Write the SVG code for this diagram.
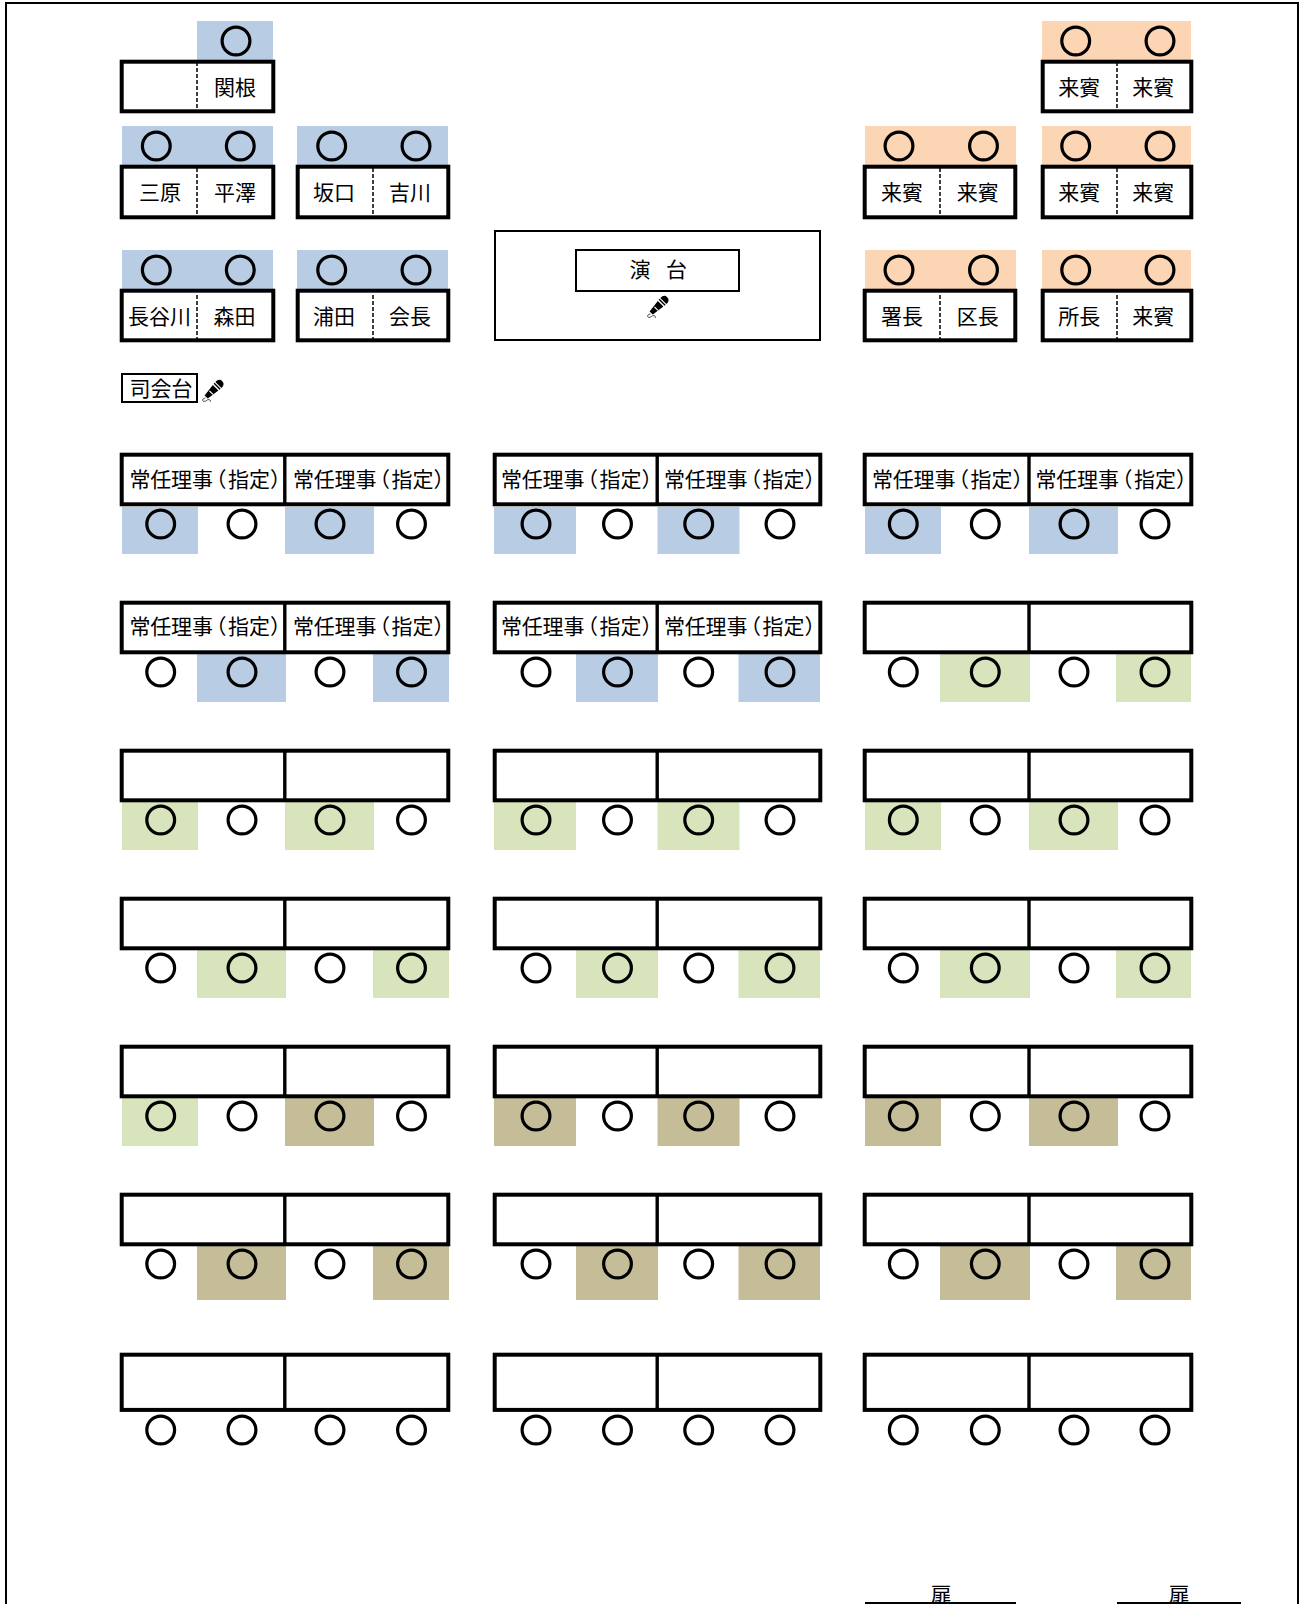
<svg xmlns="http://www.w3.org/2000/svg" width="1301" height="1604" viewBox="0 0 1301 1604">
<style>
text{font-family:"Noto Sans CJK JP","Noto Sans CJK SC",sans-serif;font-size:21px;fill:#000}
.m{text-anchor:middle}
.tb{fill:#fff;stroke:#000;stroke-width:4}
.thin{fill:#fff;stroke:#000;stroke-width:2}
.dv{stroke:#000;stroke-width:3.4;fill:none}
.ds{stroke:#000;stroke-width:1.5;stroke-dasharray:4 2;fill:none}
.c{fill:none;stroke:#000;stroke-width:3.2}
.b{fill:#B8CCE4}.o{fill:#FCD5B5}.g{fill:#D8E4BC}.t{fill:#C4BD97}
</style>
<defs>
<g id="mic">
<path d="M15 .6a4.2 4.2 0 0 1 5.8 5.8l-1.4 1.6-6-6z" fill="#000"/>
<path d="M12.6 2.8l6 6-1 1-6-6zM10.8 5l5.6 5.6-10.6 8-3.2-3.2z" fill="#000"/>
<path d="M7.4 10.8l3.6 3.6" stroke="#fff" stroke-width="1.2" fill="none"/>
<path d="M3.4 18c-3 .4-3.6 2.8-1.8 3.4 2 .7 3.6-2.4 5.6-1.8 1.3.4 1.4 1.6 1 2.4" stroke="#222" stroke-width=".8" fill="none"/>
</g>
<g id="cc1"><circle class="c" cx="160.7" cy="71" r="13.9"/><circle class="c" cx="242" cy="71" r="13.9"/><circle class="c" cx="330" cy="71" r="13.9"/><circle class="c" cx="411.5" cy="71" r="13.9"/></g>
<g id="cc2"><circle class="c" cx="536" cy="71" r="13.9"/><circle class="c" cx="617.5" cy="71" r="13.9"/><circle class="c" cx="698.7" cy="71" r="13.9"/><circle class="c" cx="780" cy="71" r="13.9"/></g>
<g id="cc3"><circle class="c" cx="903.3" cy="71" r="13.9"/><circle class="c" cx="985.3" cy="71" r="13.9"/><circle class="c" cx="1074" cy="71" r="13.9"/><circle class="c" cx="1155" cy="71" r="13.9"/></g>
<g id="c1"><rect class="tb" x="121.7" y="1.7" width="326.6" height="49.6"/><path class="dv" d="M284.8 1.7V51.3"/><use href="#cc1"/></g>
<g id="c2"><rect class="tb" x="494.7" y="1.7" width="325.6" height="49.6"/><path class="dv" d="M657.2 1.7V51.3"/><use href="#cc2"/></g>
<g id="c3"><rect class="tb" x="864.7" y="1.7" width="326.6" height="49.6"/><path class="dv" d="M1029 1.7V51.3"/><use href="#cc3"/></g>
</defs>
<rect width="1301" height="1604" fill="#fff"/>
<path d="M6 1604V3H1298V1604" fill="none" stroke="#000" stroke-width="2"/>

<g id="vip-1"><rect class="b" x="197" y="21" width="76" height="39"/><circle class="c" cx="236" cy="41" r="13.9"/><rect class="tb" x="121.7" y="61.7" width="151.6" height="49.6"/><path class="ds" d="M197 62V111"/><text class="m" x="235" y="94.5">関根</text></g>
<g id="vip-2"><rect class="b" x="122" y="126" width="151" height="39"/><circle class="c" cx="156.3" cy="146" r="13.9"/><circle class="c" cx="240.3" cy="146" r="13.9"/><rect class="tb" x="121.7" y="166.7" width="151.6" height="50.6"/><path class="ds" d="M197 168V216"/><text class="m" x="160" y="199.5">三原</text><text class="m" x="235" y="199.5">平澤</text></g>
<g id="vip-3"><rect class="b" x="297" y="126" width="151" height="39"/><circle class="c" cx="331.7" cy="146" r="13.9"/><circle class="c" cx="416" cy="146" r="13.9"/><rect class="tb" x="297.7" y="166.7" width="150.6" height="50.6"/><path class="ds" d="M373 168V216"/><text class="m" x="334" y="199.5">坂口</text><text class="m" x="410" y="199.5">吉川</text></g>
<g id="vip-4"><rect class="b" x="122" y="250" width="151" height="39"/><circle class="c" cx="156.3" cy="270" r="13.9"/><circle class="c" cx="240.3" cy="270" r="13.9"/><rect class="tb" x="121.7" y="290.7" width="151.6" height="49.6"/><path class="ds" d="M197 295V339"/><text class="m" x="159.5" y="323.5">長谷川</text><text class="m" x="234.5" y="323.5">森田</text></g>
<g id="vip-5"><rect class="b" x="297" y="250" width="151" height="39"/><circle class="c" cx="331.7" cy="270" r="13.9"/><circle class="c" cx="416" cy="270" r="13.9"/><rect class="tb" x="297.7" y="290.7" width="150.6" height="49.6"/><path class="ds" d="M373 295V339"/><text class="m" x="334" y="323.5">浦田</text><text class="m" x="410" y="323.5">会長</text></g>

<g id="guest-1"><rect class="o" x="1042" y="21" width="149" height="39"/><circle class="c" cx="1075.7" cy="41" r="13.9"/><circle class="c" cx="1160" cy="41" r="13.9"/><rect class="tb" x="1042.7" y="61.7" width="148.6" height="49.6"/><path class="ds" d="M1117 62V111"/><text class="m" x="1079.3" y="94.5">来賓</text><text class="m" x="1153.3" y="94.5">来賓</text></g>
<g id="guest-2"><rect class="o" x="865" y="126" width="151" height="39"/><circle class="c" cx="899" cy="146" r="13.9"/><circle class="c" cx="983.5" cy="146" r="13.9"/><rect class="tb" x="864.7" y="166.7" width="150.6" height="50.6"/><path class="ds" d="M940 168V216"/><text class="m" x="902" y="199.5">来賓</text><text class="m" x="977.7" y="199.5">来賓</text></g>
<g id="guest-3"><rect class="o" x="1042" y="126" width="149" height="39"/><circle class="c" cx="1075.7" cy="146" r="13.9"/><circle class="c" cx="1160" cy="146" r="13.9"/><rect class="tb" x="1042.7" y="166.7" width="148.6" height="50.6"/><path class="ds" d="M1117 168V216"/><text class="m" x="1079.3" y="199.5">来賓</text><text class="m" x="1153.3" y="199.5">来賓</text></g>
<g id="guest-4"><rect class="o" x="865" y="250" width="151" height="39"/><circle class="c" cx="899" cy="270" r="13.9"/><circle class="c" cx="983.5" cy="270" r="13.9"/><rect class="tb" x="864.7" y="290.7" width="150.6" height="49.6"/><path class="ds" d="M940 295V339"/><text class="m" x="902" y="323.5">署長</text><text class="m" x="977.7" y="323.5">区長</text></g>
<g id="guest-5"><rect class="o" x="1042" y="250" width="149" height="39"/><circle class="c" cx="1075.7" cy="270" r="13.9"/><circle class="c" cx="1160" cy="270" r="13.9"/><rect class="tb" x="1042.7" y="290.7" width="148.6" height="49.6"/><path class="ds" d="M1117 295V339"/><text class="m" x="1079.3" y="323.5">所長</text><text class="m" x="1153.3" y="323.5">来賓</text></g>

<g id="podium"><rect class="thin" x="495" y="231" width="325" height="109"/><rect class="thin" x="576" y="250" width="163" height="41"/><text x="629.5 650 666" y="277">演 台</text><use href="#mic" x="647" y="296"/></g>
<g id="mc-desk"><rect class="thin" x="122" y="374" width="75" height="28"/><text class="m" x="161" y="396">司会台</text><use href="#mic" x="202" y="380"/></g>

<g id="r1c1" transform="translate(0 453)"><rect class="b" x="122" y="54" width="76" height="47"/><rect class="b" x="285" y="54" width="89" height="47"/><use href="#c1"/>
<text transform="translate(129.5 33.5)" x="0 20.8 41.6 62.4 76 98.5 119.5 140.5">常任理事（指定）</text><text transform="translate(293 33.5)" x="0 20.8 41.6 62.4 76 98.5 119.5 140.5">常任理事（指定）</text></g>
<g id="r1c2" transform="translate(0 453)"><rect class="b" x="494" y="54" width="82" height="47"/><rect class="b" x="657.5" y="54" width="82" height="47"/><use href="#c2"/>
<text transform="translate(501 33.5)" x="0 20.8 41.6 62.4 76 98.5 119.5 140.5">常任理事（指定）</text><text transform="translate(664 33.5)" x="0 20.8 41.6 62.4 76 98.5 119.5 140.5">常任理事（指定）</text></g>
<g id="r1c3" transform="translate(0 453)"><rect class="b" x="865" y="54" width="76" height="47"/><rect class="b" x="1029" y="54" width="89" height="47"/><use href="#c3"/>
<text transform="translate(872 33.5)" x="0 20.8 41.6 62.4 76 98.5 119.5 140.5">常任理事（指定）</text><text transform="translate(1035.5 33.5)" x="0 20.8 41.6 62.4 76 98.5 119.5 140.5">常任理事（指定）</text></g>

<g id="r2c1" transform="translate(0 601)"><rect class="b" x="197" y="53" width="89" height="48"/><rect class="b" x="373" y="53" width="76" height="48"/><use href="#c1"/>
<text transform="translate(129.5 32.5)" x="0 20.8 41.6 62.4 76 98.5 119.5 140.5">常任理事（指定）</text><text transform="translate(293 32.5)" x="0 20.8 41.6 62.4 76 98.5 119.5 140.5">常任理事（指定）</text></g>
<g id="r2c2" transform="translate(0 601)"><rect class="b" x="576" y="53" width="82" height="48"/><rect class="b" x="738.5" y="53" width="81.5" height="48"/><use href="#c2"/>
<text transform="translate(501 32.5)" x="0 20.8 41.6 62.4 76 98.5 119.5 140.5">常任理事（指定）</text><text transform="translate(664 32.5)" x="0 20.8 41.6 62.4 76 98.5 119.5 140.5">常任理事（指定）</text></g>
<g id="r2c3" transform="translate(0 601)"><rect class="g" x="940" y="53" width="90" height="48"/><rect class="g" x="1116" y="53" width="75" height="48"/><use href="#c3"/></g>

<g id="r3c1" transform="translate(0 749)"><rect class="g" x="122" y="53" width="76" height="48"/><rect class="g" x="285" y="53" width="89" height="48"/><use href="#c1"/></g>
<g id="r3c2" transform="translate(0 749)"><rect class="g" x="494" y="53" width="82" height="48"/><rect class="g" x="657.5" y="53" width="82" height="48"/><use href="#c2"/></g>
<g id="r3c3" transform="translate(0 749)"><rect class="g" x="865" y="53" width="76" height="48"/><rect class="g" x="1029" y="53" width="89" height="48"/><use href="#c3"/></g>

<g id="r4c1" transform="translate(0 897)"><rect class="g" x="197" y="53" width="89" height="48"/><rect class="g" x="373" y="53" width="76" height="48"/><use href="#c1"/></g>
<g id="r4c2" transform="translate(0 897)"><rect class="g" x="576" y="53" width="82" height="48"/><rect class="g" x="738.5" y="53" width="81.5" height="48"/><use href="#c2"/></g>
<g id="r4c3" transform="translate(0 897)"><rect class="g" x="940" y="53" width="90" height="48"/><rect class="g" x="1116" y="53" width="75" height="48"/><use href="#c3"/></g>

<g id="r5c1" transform="translate(0 1045)"><rect class="g" x="122" y="53" width="76" height="48"/><rect class="t" x="285" y="53" width="89" height="48"/><use href="#c1"/></g>
<g id="r5c2" transform="translate(0 1045)"><rect class="t" x="494" y="53" width="82" height="48"/><rect class="t" x="657.5" y="53" width="82" height="48"/><use href="#c2"/></g>
<g id="r5c3" transform="translate(0 1045)"><rect class="t" x="865" y="53" width="76" height="48"/><rect class="t" x="1029" y="53" width="89" height="48"/><use href="#c3"/></g>

<g id="r6c1" transform="translate(0 1193)"><rect class="t" x="197" y="53" width="89" height="54"/><rect class="t" x="373" y="53" width="76" height="54"/><use href="#c1"/></g>
<g id="r6c2" transform="translate(0 1193)"><rect class="t" x="576" y="53" width="82" height="54"/><rect class="t" x="738.5" y="53" width="81.5" height="54"/><use href="#c2"/></g>
<g id="r6c3" transform="translate(0 1193)"><rect class="t" x="940" y="53" width="90" height="54"/><rect class="t" x="1116" y="53" width="75" height="54"/><use href="#c3"/></g>

<g id="r7c1" transform="translate(0 1353)"><rect class="tb" x="121.7" y="1.7" width="326.6" height="55.2"/><path class="dv" d="M284.8 1.7V56.9"/><use href="#cc1" y="6"/></g>
<g id="r7c2" transform="translate(0 1353)"><rect class="tb" x="494.7" y="1.7" width="325.6" height="55.2"/><path class="dv" d="M657.2 1.7V56.9"/><use href="#cc2" y="6"/></g>
<g id="r7c3" transform="translate(0 1353)"><rect class="tb" x="864.7" y="1.7" width="326.6" height="55.2"/><path class="dv" d="M1029 1.7V56.9"/><use href="#cc3" y="6"/></g>

<g id="door-1"><text class="m" x="941" y="1602">扉</text><path d="M865 1603H1016" stroke="#000" stroke-width="2"/></g>
<g id="door-2"><text class="m" x="1179" y="1602">扉</text><path d="M1117 1603H1241" stroke="#000" stroke-width="2"/></g>
</svg>
